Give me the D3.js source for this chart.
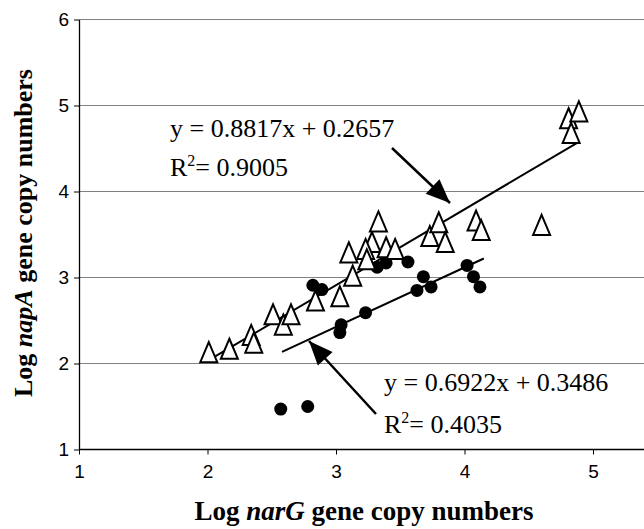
<!DOCTYPE html>
<html>
<head>
<meta charset="utf-8">
<script src="https://cdn.jsdelivr.net/npm/d3@7"></script>
<style>
  html, body { margin: 0; padding: 0; background: #fff; }
  svg { display: block; }
</style>
</head>
<body>
<svg id="chart" width="644" height="529"></svg>
<script>
// ---- data ----
const xTicks = [1, 2, 3, 4, 5];
const yTicks = [1, 2, 3, 4, 5, 6];
const napTriangleX = [2.01, 2.17, 2.34, 2.36, 2.51, 2.59, 2.65, 2.84, 3.03, 3.13, 3.10, 3.28, 3.23, 3.33, 3.39, 3.46, 3.24, 3.73, 3.80, 3.85, 4.09, 4.13, 4.60, 4.81, 4.89, 4.83];
const napTriangleY = [2.12, 2.16, 2.32, 2.23, 2.56, 2.44, 2.56, 2.72, 2.77, 3.01, 3.28, 3.40, 3.32, 3.64, 3.34, 3.32, 3.20, 3.47, 3.63, 3.40, 3.65, 3.54, 3.60, 4.84, 4.92, 4.67];
const circleX = [2.57, 2.78, 2.82, 2.89, 3.04, 3.03, 3.23, 3.32, 3.39, 3.56, 3.68, 3.63, 3.74, 4.02, 4.07, 4.12];
const circleY = [1.47, 1.50, 2.91, 2.86, 2.45, 2.36, 2.59, 3.12, 3.17, 3.18, 3.01, 2.85, 2.89, 3.14, 3.01, 2.89];
const fitUpper = { slope: 0.8817, intercept: 0.2657, x0: 2.02, x1: 4.89 };
const fitLower = { slope: 0.6922, intercept: 0.3486, x0: 2.58, x1: 4.15 };
const xTitle = ["Log ", "narG", " gene copy numbers"];
const yTitle = ["Log ", "napA", " gene copy numbers"];

// ---- chart ----
const svg = d3.select("#chart");
const x = d3.scaleLinear().domain([1, 6]).range([79, 721.5]);
const y = d3.scaleLinear().domain([1, 6]).range([449.5, 19.5]);

// gridlines
svg.append("g").selectAll("line").data(yTicks.slice(1)).join("line")
  .attr("x1", x(1)).attr("x2", 644)
  .attr("y1", d => y(d)).attr("y2", d => y(d))
  .attr("stroke", "#808080").attr("stroke-width", 1.2);

// axes
const xAxis = svg.append("g").attr("transform", `translate(0,${y(1)})`)
  .call(d3.axisBottom(x).tickValues(xTicks).tickSize(5).tickSizeOuter(0).tickFormat(d3.format("d")));
xAxis.select(".domain").attr("d", `M${x(1)},0H644`);
const yAxis = svg.append("g").attr("transform", `translate(${x(1)},0)`)
  .call(d3.axisLeft(y).tickValues(yTicks).tickSize(5).tickSizeOuter(0).tickFormat(d3.format("d")));
[xAxis, yAxis].forEach(g => {
  g.select(".domain").attr("stroke", "#000").attr("stroke-width", 1.3);
  g.selectAll(".tick line").attr("stroke", "#000");
  g.selectAll(".tick text").attr("font-family", "Liberation Sans, Arial, sans-serif")
    .attr("font-size", 19).attr("fill", "#000");
});
xAxis.selectAll(".tick text").attr("dy", "1.1em");
yAxis.selectAll(".tick text").attr("dx", "-0.1em");

// regression lines
[fitUpper, fitLower].forEach(f => {
  svg.append("line")
    .attr("x1", x(f.x0)).attr("y1", y(f.slope * f.x0 + f.intercept))
    .attr("x2", x(f.x1)).attr("y2", y(f.slope * f.x1 + f.intercept))
    .attr("stroke", "#000").attr("stroke-width", 2);
});

// circles
svg.append("g").selectAll("circle").data(d3.range(circleX.length)).join("circle")
  .attr("cx", i => x(circleX[i])).attr("cy", i => y(circleY[i]))
  .attr("r", 6.5).attr("fill", "#000");

// triangles
const tri = "M0,-11L8.5,9L-8.5,9Z";
svg.append("g").selectAll("path").data(d3.range(napTriangleX.length)).join("path")
  .attr("d", tri)
  .attr("transform", i => `translate(${x(napTriangleX[i])},${y(napTriangleY[i])})`)
  .attr("fill", "#fff").attr("stroke", "#000").attr("stroke-width", 2);

// annotations
const serif = "Liberation Serif, Times New Roman, serif";
function eq(xp, yp, txt) {
  svg.append("text").attr("x", xp).attr("y", yp).attr("font-family", serif)
    .attr("font-size", 26).text(txt);
}
function r2(xp, yp, val) {
  const t = svg.append("text").attr("x", xp).attr("y", yp).attr("font-family", serif).attr("font-size", 26);
  t.append("tspan").text("R");
  t.append("tspan").attr("font-size", 16).attr("dy", -10).text("2");
  t.append("tspan").attr("dy", 10).text("= " + val);
}
eq(170, 137, "y = 0.8817x + 0.2657");
r2(170, 176, "0.9005");
eq(384, 391, "y = 0.6922x + 0.3486");
r2(384, 433, "0.4035");

// arrows
function arrow(x1, y1, x2, y2) {
  svg.append("line").attr("x1", x1).attr("y1", y1).attr("x2", x2).attr("y2", y2)
    .attr("stroke", "#000").attr("stroke-width", 2.5);
  const ang = Math.atan2(y2 - y1, x2 - x1);
  const L = 24, W = 10;
  const bx = x2 - L * Math.cos(ang), by = y2 - L * Math.sin(ang);
  const px = -Math.sin(ang) * W, py = Math.cos(ang) * W;
  svg.append("path").attr("d", `M${x2},${y2}L${bx + px},${by + py}L${bx - px},${by - py}Z`).attr("fill", "#000");
}
arrow(392, 148, 450, 203);
arrow(376, 414, 309, 341);

// axis titles
function title(tx, ty, parts, rotate, size) {
  const t = svg.append("text").attr("text-anchor", "middle").attr("font-family", serif)
    .attr("font-weight", "bold").attr("font-size", size)
    .attr("transform", `translate(${tx},${ty})` + (rotate ? " rotate(-90)" : ""));
  parts.forEach((p, i) => t.append("tspan").attr("font-style", i === 1 ? "italic" : "normal").text(p));
}
title(364, 520, xTitle, false, 27);
title(32, 233, yTitle, true, 26);
</script>
</body>
</html>
